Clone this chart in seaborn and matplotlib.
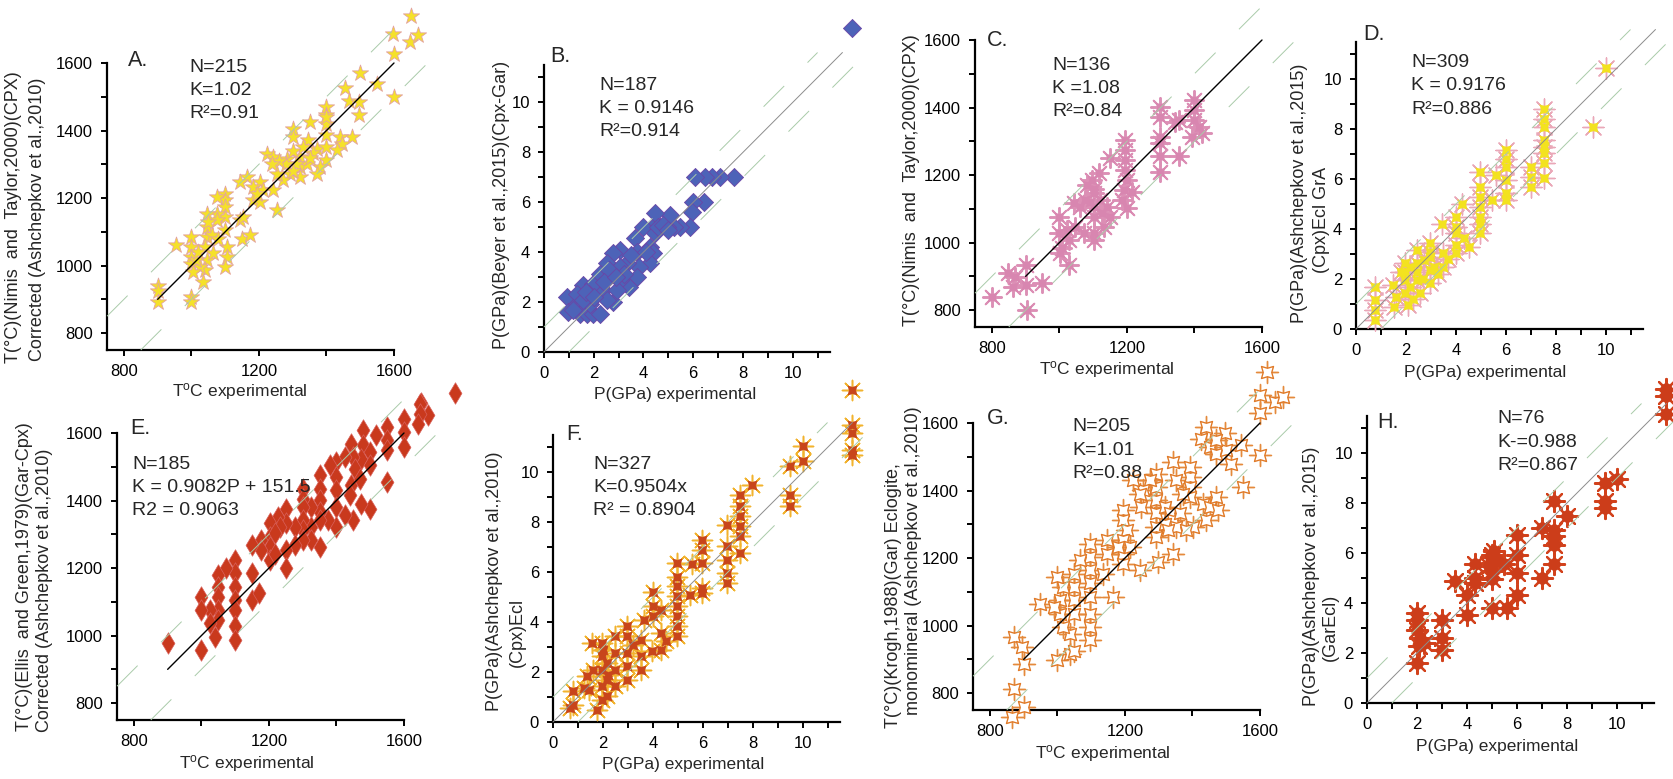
import matplotlib
matplotlib.use("Agg")
import matplotlib.pyplot as plt
import seaborn as sns
import pandas as pd

sns.set_style("ticks")
plt.rcParams["font.family"] = ["Liberation Sans", "DejaVu Sans"]
plt.rcParams["mathtext.fontset"] = "custom"
plt.rcParams["mathtext.rm"] = "Liberation Sans"
plt.rcParams["mathtext.it"] = "Liberation Sans:italic"

W, H = 1673, 779

# ---------------- data (x experimental, y calculated) ----------------
A_PTS = [(1650,1739),(1598,1687),(1648,1662),(1672,1682),(1601,1626),(1601,1500),(1500,1569),(1549,1537),
         (1455,1527),(1468,1487),(1497,1485),(1497,1445),(1400,1470),(1398,1445),(1400,1386),(1475,1381),
         (1440,1381),(1445,1361),(1351,1425),(1346,1371),(1300,1406),(1300,1381),(1400,1312),(1371,1346),
         (1223,1331),(1243,1321),(1282,1316),(1322,1321),(1322,1292),(1342,1302),(1292,1272),(1272,1253),
         (1253,1272),(1322,1262),(1361,1332),(1381,1292),(1164,1262),(1203,1248),(1144,1248),(1183,1233),
         (1213,1223),(1253,1164),(1183,1194),(1203,1189),(1193,1213),(1243,1223),(1100,1213),(1100,1194),
         (1100,1174),(1100,1144),(1100,1105),(1105,1055),(1105,1026),(1100,996),(1075,1203),(1075,1154),
         (1075,1134),(1045,1154),(1045,1115),(1045,1085),(1040,1055),(1045,1016),(1040,986),(1025,996),
         (1000,1085),(1000,1055),(1000,1026),(1000,1006),(1005,981),(1035,951),(1000,907),(1000,892),
         (954,1060),(902,939),(902,924),(902,892),(1144,1134),(1151,1080),(1173,1090),(1153,1144),
         (1065,1036),(1015,1016),(1430,1341),(1371,1272),(1400,1351),(1300,1340),(1310,1300),(1280,1300),
         (1330,1350),(1350,1320),(1260,1310),(1300,1280),(1240,1300),(1400,1420),(1400,1440),(1050,1130),
         (1020,1040),(1060,1090),(1080,1080)]

B_PTS = [(12.37,12.97),(7.62,7.03),(7.09,7.03),(6.75,7.03),(6.48,7.03),(6.08,7.03),(6.42,6.02),(6.01,6.02),
         (5.95,5.62),(5.88,5.02),(5.48,5.02),(5.21,5.02),(4.94,5.02),(4.67,5.02),(4.40,5.02),(4.0,5.02),
         (5.07,5.49),(4.47,5.55),(4.47,4.75),(4.27,4.22),(4.4,3.95),(4.27,3.55),(3.66,4.55),(3.73,4.02),
         (3.80,3.41),(3.73,3.01),(3.4,2.61),(3.33,3.55),(3.06,4.08),(2.79,3.95),(2.79,2.01),(2.52,3.55),
         (2.46,3.01),(0.91,2.21),(0.98,1.61),(1.32,1.94),(1.58,2.68),(1.45,1.54),(1.72,1.54),(1.99,1.54),
         (2.26,1.54),(1.85,1.94),(2.12,2.34),(2.39,2.48),(1.99,2.74),(1.79,2.34),(2.26,3.14),(3.06,2.88),
         (2.72,3.14),(3.06,3.41),(2.93,2.48),(1.32,2.34),(1.18,1.67),(2.52,2.07),(1.58,2.07),(3.2,3.14),
         (2.6,3.3),(2.4,2.8),(2.9,3.0),(1.7,2.4),(2.0,2.2),(3.5,3.9),(4.1,4.0),(4.6,5.0),(4.8,5.1),(5.0,4.9)]

C_PTS = [(800,840),(849,909),(864,869),(869,899),(902,933),(902,874),(904,800),(948,879),(998,1077),
         (998,1027),(1003,968),(1008,983),(1027,933),(1027,1007),(1022,1037),(1042,1116),(1047,1047),
         (1062,1106),(1072,1027),(1077,1126),(1082,1170),(1096,1185),(1101,1146),(1101,1106),(1101,1077),
         (1101,1027),(1101,1007),(1116,1205),(1121,1126),(1126,1087),(1131,1047),(1141,1106),(1151,1077),
         (1151,1250),(1185,1126),(1190,1156),(1195,1304),(1195,1274),(1195,1244),(1195,1215),(1200,1185),
         (1200,1101),(1215,1151),(1299,1403),(1299,1373),(1299,1314),(1299,1294),(1299,1255),(1299,1210),
         (1353,1255),(1343,1358),(1353,1363),(1398,1422),(1398,1393),(1398,1363),(1413,1343),(1422,1324),
         (1393,1314),(1101,1160),(1090,1120)]

D_PTS = [(10.0,10.44),(9.49,8.08),(7.52,8.8),(7.52,8.1),(7.52,7.57),(7.52,7.04),(7.52,6.64),(7.52,6.04),
         (7.52,8.4),(7.52,7.3),(7.0,6.5),(7.0,6.1),(7.0,5.7),(6.0,7.17),(6.0,6.5),(6.0,5.97),(6.0,5.44),
         (6.0,5.17),(6.0,6.8),(5.6,6.17),(5.46,5.17),(4.97,6.3),(4.97,5.7),(4.97,5.3),(4.97,4.9),(4.97,4.5),
         (4.97,3.84),(4.97,4.2),(4.25,5.0),(3.99,4.5),(3.99,3.84),(3.99,3.37),(3.99,3.04),(3.99,4.1),
         (4.32,3.64),(4.52,3.28),(3.45,4.21),(3.49,3.04),(3.49,2.5),(2.98,3.44),(2.98,2.9),(2.98,2.37),
         (2.98,1.84),(2.98,3.1),(2.44,3.17),(2.44,2.64),(2.44,1.97),(2.58,1.44),(2.44,2.3),(2.17,2.5),
         (2.17,1.7),(2.1,0.97),(1.97,2.64),(1.97,1.97),(1.97,1.44),(1.97,2.3),(1.5,1.77),(1.53,0.9),
         (1.6,1.3),(0.77,1.7),(0.77,1.17),(0.77,0.77),(0.77,0.37),(3.11,2.5),(2.71,2.77),(1.8,2.3),
         (2.3,1.2),(2.7,2.0),(3.3,2.2),(3.7,2.8)]

E_PTS = [(1752,1719),(1672,1654),(1651,1690),(1647,1686),(1647,1657),(1642,1627),
         (1600,1642),(1600,1603),(1600,1558),(1550,1618),(1550,1578),(1550,1549),(1550,1455),(1518,1593),
         (1479,1608),(1479,1563),(1474,1524),(1499,1544),(1499,1504),(1499,1376),(1444,1568),(1449,1529),
         (1454,1494),(1444,1445),(1439,1416),(1469,1465),(1474,1391),(1449,1342),(1424,1529),(1424,1357),
         (1400,1514),(1400,1470),(1400,1430),(1400,1381),(1400,1322),(1380,1504),(1375,1342),(1350,1475),
         (1350,1435),(1350,1401),(1350,1366),(1350,1342),(1350,1263),(1326,1381),(1326,1322),(1326,1283),
         (1301,1435),(1301,1406),(1301,1381),(1301,1342),(1301,1312),(1301,1283),(1276,1322),(1276,1268),
         (1252,1376),(1252,1332),(1252,1253),(1252,1199),(1227,1352),(1232,1322),(1202,1332),(1202,1293),
         (1202,1263),(1202,1224),(1177,1283),(1177,1253),(1217,1303),(1217,1243),(1150,1268),(1150,1184),
         (1150,1105),(1172,1125),(1098,1224),(1098,1184),(1098,1144),(1098,1105),(1098,1076),(1098,1027),
         (1098,987),(1074,1199),(1049,1179),(1049,1144),(1049,1115),(1049,1076),(1049,1046),(1024,1076),
         (1024,1036),(1039,997),(1000,1115),(1000,1076),(1000,958),(901,977)]

F_PTS = [(12.0,13.3),(12.0,11.9),(12.0,11.6),(12.0,10.9),(12.0,10.7),(10.0,11.04),(10.0,10.44),
         (9.49,10.24),(9.49,9.1),(9.49,8.64),(7.97,9.5),(7.5,9.1),(7.5,8.64),(7.5,8.24),(7.5,7.84),
         (7.5,7.44),(7.5,6.77),(6.99,7.88),(6.99,7.04),(6.99,6.5),(6.99,5.97),(6.99,5.57),(5.98,7.3),
         (5.98,6.9),(5.98,6.37),(5.98,5.37),(5.98,5.17),(5.58,6.34),(5.49,5.1),(4.98,6.37),(4.98,5.83),
         (4.98,5.43),(4.98,5.03),(4.98,4.63),(4.98,4.23),(4.98,3.83),(4.98,3.43),(4.0,5.21),(4.0,4.63),
         (4.31,4.5),(4.0,4.23),(4.31,3.56),(4.51,3.23),(4.31,2.9),(3.98,2.83),(3.64,4.1),(3.51,3.3),
         (3.51,2.63),(3.51,2.1),(2.97,3.83),(2.97,3.43),(2.97,2.76),(2.97,2.23),(2.97,1.7),(2.48,3.43),
         (2.48,2.76),(2.48,2.1),(2.48,1.43),(2.17,2.36),(2.17,1.7),(2.17,1.03),(1.97,3.16),(1.97,2.63),
         (1.97,2.1),(1.97,1.43),(1.97,0.89),(1.57,3.16),(1.61,2.1),(1.43,1.3),(1.77,0.49),(1.37,1.86),
         (1.23,1.36),(0.8,1.23),(0.8,0.69),(0.7,0.56),(2.0,2.9),(2.2,1.9),(3.2,3.1)]

G_PTS = [(1600,1682),(1645,1662),(1668,1677),(1600,1630),(1600,1505),(1620,1750),
         (1441,1588),(1426,1554),(1451,1529),(1470,1509),(1495,1569),(1500,1519),(1515,1480),(1544,1534),
         (1549,1411),(1470,1549),(1392,1440),(1392,1411),(1392,1381),(1392,1470),(1343,1485),(1352,1430),
         (1372,1391),(1431,1361),(1451,1351),(1470,1381),(1475,1341),(1441,1312),(1402,1292),(1293,1450),
         (1293,1411),(1293,1371),(1293,1332),(1293,1292),(1293,1262),(1274,1430),(1254,1401),(1318,1351),
         (1333,1332),(1343,1312),(1352,1292),(1318,1302),(1362,1332),(1328,1282),(1382,1282),(1244,1391),
         (1225,1430),(1249,1351),(1195,1341),(1195,1312),(1205,1282),(1195,1253),(1195,1213),(1195,1183),
         (1180,1233),(1215,1233),(1244,1164),(1298,1188),(1343,1213),(1146,1253),(1146,1213),(1136,1154),
         (1166,1085),(1097,1243),(1097,1203),(1097,1164),(1097,1125),(1097,1085),(1097,1035),(1097,996),
         (1097,956),(1067,1193),(1048,1154),(1048,1115),(1048,1075),(1048,1035),(1038,976),(1038,917),
         (1018,1115),(1008,1075),(1008,1035),(1018,996),(999,1144),(989,1055),(949,1065),(999,897),
         (1048,926),(871,966),(895,936),(900,887),(871,813),(900,759),(866,729)]

H_PTS = [(12.0,12.6),(12.0,12.3),(12.0,11.6),(10.01,8.98),(9.54,8.82),(9.54,8.09),(9.54,7.82),(8.03,7.49),
         (7.5,8.09),(7.5,6.95),(7.5,6.68),(7.5,6.35),(7.5,5.55),(7.03,7.02),(7.03,5.01),(6.02,6.75),
         (6.02,5.95),(6.02,5.21),(6.02,4.34),(5.62,3.81),(5.02,5.95),(5.02,5.62),(5.02,5.28),(5.02,4.95),
         (5.22,5.75),(4.88,5.48),(5.49,5.55),(5.02,3.81),(4.31,5.55),(4.31,5.01),(4.31,4.81),(4.02,4.34),
         (4.02,3.54),(3.51,4.88),(3.01,3.34),(3.01,2.61),(3.01,2.14),(2.01,3.61),(2.01,3.34),(2.01,2.94),
         (2.14,2.61),(2.28,2.41),(2.07,2.27),(2.01,1.6),(5.1,6.1),(4.95,5.85)]

# reference lines
T_FIT = ([900, 1600], [900, 1600])
T_UP = ([750, 1600], [850, 1700])
T_LO = ([850, 1700], [750, 1600])
P_ONE = ([0, 12], [0, 12])
P_UP = ([0, 11], [1, 12])
P_LO = ([1, 12.5], [0, 11.5])

T_TICKS = [800, 1000, 1200, 1400, 1600]
T_XLAB = ["800", "", "1200", "", "1600"]
T_YTICKS = [800, 900, 1000, 1100, 1200, 1300, 1400, 1500, 1600]
T_YLAB = ["800", "", "1000", "", "1200", "", "1400", "", "1600"]
P_TICKS = list(range(0, 12))
P_LAB = [str(t) if t % 2 == 0 and t <= 10 else "" for t in P_TICKS]

# ---------------- figure ----------------
fig = plt.figure(figsize=(W / 100, H / 100), dpi=100)


def fx(x):
    return x / W


def fy(y):
    return 1 - y / H


def make_ax(l, b, r, t, kind):
    ax = fig.add_axes([fx(l), fy(b), (r - l) / W, (b - t) / H])
    ax.set_facecolor("none")
    for s in ("top", "right"):
        ax.spines[s].set_visible(False)
    for s in ("left", "bottom"):
        ax.spines[s].set_linewidth(1.6)
        ax.spines[s].set_color("black")
    ax.tick_params(direction="out", length=4, width=1.4, labelsize=12, pad=6, colors="black")
    return ax


def finish_ax(ax, kind):
    if kind == "T":
        ax.set_xlim(750, 1600)
        ax.set_ylim(750, 1600)
        ax.set_xticks(T_TICKS)
        ax.set_xticklabels(T_XLAB)
        ax.set_yticks(T_YTICKS)
        ax.set_yticklabels(T_YLAB)
    else:
        ax.set_xlim(0, 11.5)
        ax.set_ylim(0, 11.5)
        ax.set_xticks(P_TICKS)
        ax.set_xticklabels(P_LAB)
        ax.set_yticks(P_TICKS)
        ax.set_yticklabels(P_LAB)
    ax.set_xlabel("")
    ax.set_ylabel("")


GREEN = "#a9cba9"
DASH = (0, (30, 34))


def ref_lines(ax, kind):
    if kind == "T":
        ax.plot(*T_UP, color=GREEN, lw=0.7, ls=DASH, clip_on=False, zorder=4)
        ax.plot(*T_LO, color=GREEN, lw=0.7, ls=DASH, clip_on=False, zorder=4)
        ax.plot(*T_FIT, color="black", lw=1.0, clip_on=False, zorder=4)
    else:
        ax.plot(*P_UP, color=GREEN, lw=0.7, ls=DASH, clip_on=False, zorder=4)
        ax.plot(*P_LO, color=GREEN, lw=0.7, ls=DASH, clip_on=False, zorder=4)
        ax.plot(*P_ONE, color="#8c8c8c", lw=0.7, clip_on=False, zorder=4)


def df(pts):
    x, y = zip(*pts)
    return pd.DataFrame({"x": x, "y": y})


def sc(ax, pts, **kw):
    sns.scatterplot(data=df(pts), x="x", y="y", ax=ax, clip_on=False, legend=False, zorder=3, **kw)


def texts(lx, baselines, lines, size=14):
    for yb, s in zip(baselines, lines):
        fig.text(fx(lx), fy(yb), s, fontsize=size, ha="left", va="baseline")


def letter(lx, cy, s):
    fig.text(fx(lx), fy(cy), s, fontsize=15.5, ha="left", va="center")


def xlab(cx, cy, s):
    fig.text(fx(cx), fy(cy), s, fontsize=12.5, ha="center", va="center")


def ylab(cx, cy, s, size=13):
    fig.text(fx(cx), fy(cy), s, fontsize=size, ha="center", va="center", rotation=90)


TXT = r"T$^{\mathrm{o}}$C experimental"
PXT = "P(GPa) experimental"

# A
ax = make_ax(107, 350, 394, 63, "T")
ref_lines(ax, "T")
sc(ax, A_PTS, marker="*", s=150, color="#f5e12a", edgecolor="#e3a3a0", linewidth=0.6)
finish_ax(ax, "T")
letter(128, 60, "A.")
texts(189, [72, 95, 118], ["N=215", "K=1.02", "R²=0.91"])
xlab(240, 392, TXT)
ylab(14, 217, "T(°C)(Nimis  and  Taylor,2000)(CPX)")
ylab(38, 219, "Corrected (Ashchepkov et al.,2010)")

# B
ax = make_ax(544, 352, 830, 65, "P")
ref_lines(ax, "P")
sc(ax, B_PTS, marker="D", s=85, color="#4d63b8", edgecolor="#6a46a6", linewidth=0.6)
finish_ax(ax, "P")
letter(550, 57, "B.")
texts(599, [90, 113, 136], ["N=187", "K = 0.9146", "R²=0.914"])
xlab(675, 395, PXT)
ylab(502, 205, "P(GPa)(Beyer et al.,2015)(Cpx-Gar)")

# C
ax = make_ax(975, 327, 1262, 40, "T")
ref_lines(ax, "T")
sc(ax, C_PTS, marker=(8, 2, 0), s=190, color="#dc8fb5", linewidth=1.4)
sc(ax, C_PTS, marker=(4, 1, 45), s=80, color="#d886b0", edgecolor="#d886b0", linewidth=0.3)
finish_ax(ax, "T")
letter(987, 40, "C.")
texts(1052, [70, 93, 116], ["N=136", "K =1.08", "R²=0.84"])
xlab(1107, 370, TXT)
ylab(912, 180, "T(°C)(Nimis  and  Taylor,2000)(CPX)")

# D
ax = make_ax(1356, 329, 1643, 42, "P")
ref_lines(ax, "P")
sc(ax, D_PTS, marker=(8, 2, 0), s=230, color="#eaa8b8", linewidth=1.0)
sc(ax, D_PTS, marker=(4, 1, 45), s=95, color="#f3e21f", edgecolor="#f3e21f", linewidth=0.3)
finish_ax(ax, "P")
letter(1363, 35, "D.")
texts(1411, [67, 90, 114], ["N=309", "K = 0.9176", "R²=0.886"])
xlab(1485, 372, PXT)
ylab(1300, 193, "P(GPa)(Ashchepkov et al.,2015)")
ylab(1321, 220, "(Cpx)Ecl GrA")

# E
ax = make_ax(117, 720, 404, 433, "T")
ref_lines(ax, "T")
sc(ax, E_PTS, marker="d", s=120, color="#c9391d", edgecolor="#d9605a", linewidth=0.5)
finish_ax(ax, "T")
letter(130, 429, "E.")
texts(132, [469, 492, 515], ["N=185", "K = 0.9082P + 151.5", "R2 = 0.9063"])
xlab(247, 763, TXT)
ylab(25, 577, "T(°C)(Ellis  and Green,1979)(Gar-Cpx)")
ylab(45, 590, "Corrected (Ashchepkov et al.,2010)")

# F
ax = make_ax(553, 722, 840, 435, "P")
ref_lines(ax, "P")
sc(ax, F_PTS, marker=(8, 2, 0), s=210, color="#f2b32e", linewidth=1.1)
sc(ax, F_PTS, marker=(4, 1, 45), s=90, color="#c8451b", edgecolor="#c8451b", linewidth=0.3)
finish_ax(ax, "P")
letter(566, 435, "F.")
texts(593, [469, 492, 515], ["N=327", "K=0.9504x", "R² = 0.8904"])
xlab(683, 765, PXT)
ylab(495, 581, "P(GPa)(Ashchepkov et al.,2010)")
ylab(517, 632, "(Cpx)Ecl")

# G
ax = make_ax(973, 710, 1260, 423, "T")
ref_lines(ax, "T")
sc(ax, G_PTS, marker=(4, 2, 0), s=230, color="#e58a3c", linewidth=1.0)
sc(ax, G_PTS, marker=(4, 1, 45), s=150, color="white", edgecolor="#e07a28", linewidth=1.0)
finish_ax(ax, "T")
letter(987, 418, "G.")
texts(1072, [431, 455, 478], ["N=205", "K=1.01", "R²=0.88"])
xlab(1103, 753, TXT)
ylab(893, 596, "T(°C)(Krogh,1988)(Gar) Eclogite,")
ylab(913, 561, "monomineral (Ashchepkov et al.,2010)")

# H
ax = make_ax(1367, 703, 1654, 416, "P")
ref_lines(ax, "P")
sc(ax, H_PTS, marker=(8, 2, 0), s=230, color="#d2421c", linewidth=1.6)
sc(ax, H_PTS, marker="o", s=75, color="#cc3d1a", edgecolor="#cc3d1a", linewidth=0.3)
finish_ax(ax, "P")
letter(1377, 422, "H.")
texts(1497, [423, 447, 470], ["N=76", "K-=0.988", "R²=0.867"])
xlab(1497, 747, PXT)
ylab(1312, 576, "P(GPa)(Ashchepkov et al.,2015)")
ylab(1330, 627, "(GarEcl)")

fig.savefig("out.png", dpi=100)
